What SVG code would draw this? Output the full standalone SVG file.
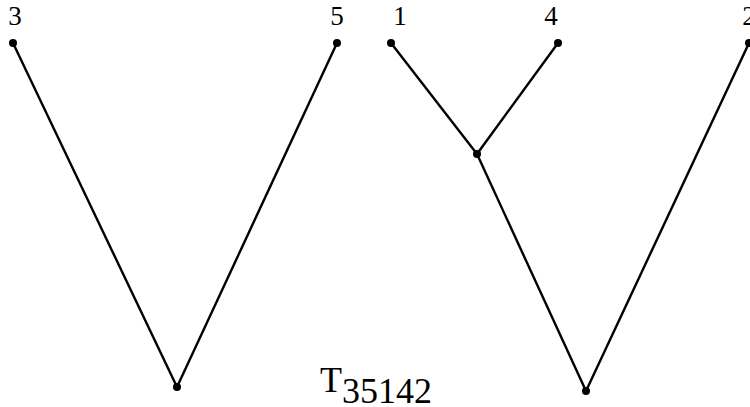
<svg xmlns="http://www.w3.org/2000/svg" width="750" height="407" viewBox="0 0 750 407">
<style>
.e{stroke:#000;stroke-width:2.4;fill:none}
.d{fill:#000}
.t{font-family:"Liberation Serif",serif;font-size:27px;text-anchor:middle;fill:#000}
.c{font-family:"Liberation Serif",serif;font-size:36px;fill:#000}
</style>
<rect width="750" height="407" fill="#fff"/>
<g id="edges">
<line class="e" x1="13" y1="43" x2="177" y2="387"/>
<line class="e" x1="337" y1="43" x2="177" y2="387"/>
<line class="e" x1="391" y1="43" x2="477" y2="154"/>
<line class="e" x1="558" y1="43" x2="477" y2="154"/>
<line class="e" x1="477" y1="154" x2="586" y2="391"/>
<line class="e" x1="749" y1="43" x2="586" y2="391"/>
</g>
<g id="n3"><circle class="d" cx="13" cy="43" r="4"/><text class="t" x="15" y="25">3</text></g>
<g id="n5"><circle class="d" cx="337" cy="43" r="4"/><text class="t" x="337" y="25">5</text></g>
<g id="n1"><circle class="d" cx="391" cy="43" r="4"/><text class="t" x="400" y="25">1</text></g>
<g id="n4"><circle class="d" cx="558" cy="43" r="4"/><text class="t" x="551" y="25">4</text></g>
<g id="n2"><circle class="d" cx="749" cy="43" r="4"/><text class="t" x="749" y="25">2</text></g>
<g id="nL"><circle class="d" cx="177" cy="387" r="4"/></g>
<g id="nI"><circle class="d" cx="477" cy="154" r="4"/></g>
<g id="nR"><circle class="d" cx="586" cy="391" r="4"/></g>
<g id="title"><text class="c" x="320" y="392">T<tspan y="403">35142</tspan></text></g>
</svg>
